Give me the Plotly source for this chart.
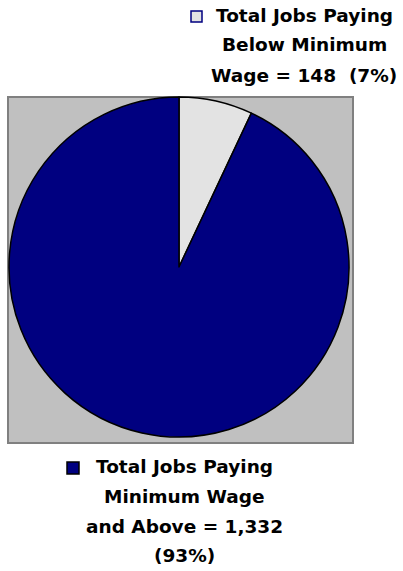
import plotly.graph_objects as go

W, H = 403, 571

categories = ["Total Jobs Paying Below Minimum Wage", "Total Jobs Paying Minimum Wage and Above"]
jobs = [148, 1332]
percent = [7, 93]
colors = ["#E3E3E3", "#000080"]

legend_lines = [
    ["Total Jobs Paying", "Below Minimum", "Wage = 148  (7%)"],
    ["Total Jobs Paying", "Minimum Wage", "and Above = 1,332", "(93%)"],
]


def px_x(v):
    return v / W


def px_y(v):
    return 1 - v / H


fig = go.Figure()
fig.add_trace(go.Pie(
    labels=categories,
    values=percent,
    customdata=jobs,
    sort=False,
    direction="clockwise",
    rotation=0,
    marker=dict(colors=colors, line=dict(color="#000000", width=1.5)),
    textinfo="none",
    hovertemplate="%{label}: %{customdata} (%{value}%)<extra></extra>",
    showlegend=False,
    domain=dict(x=[px_x(9), px_x(349)], y=[px_y(437), px_y(97)]),
))

shapes = [
    dict(type="rect", xref="paper", yref="paper", layer="below",
         x0=px_x(8), x1=px_x(353), y0=px_y(443), y1=px_y(97),
         fillcolor="#C0C0C0", line=dict(color="#808080", width=2)),
    dict(type="rect", xref="paper", yref="paper",
         x0=px_x(191), x1=px_x(202), y0=px_y(22), y1=px_y(11),
         fillcolor=colors[0], line=dict(color="#000080", width=1.5)),
    dict(type="rect", xref="paper", yref="paper",
         x0=px_x(67), x1=px_x(79), y0=px_y(474), y1=px_y(462),
         fillcolor=colors[1], line=dict(color="#000000", width=1.5)),
]

font = dict(family="DejaVu Sans, sans-serif", size=18.5, color="#000000", weight="bold")
annotations = []
for cx, ys, lines in [(304, [15, 45, 76], legend_lines[0]), (184, [466, 496, 526, 555], legend_lines[1])]:
    for yy, t in zip(ys, lines):
        annotations.append(dict(text=t, xref="paper", yref="paper", x=px_x(cx), y=px_y(yy),
                                xanchor="center", yanchor="middle", showarrow=False, font=font))

fig.update_layout(
    width=W, height=H,
    margin=dict(l=0, r=0, t=0, b=0),
    paper_bgcolor="#FFFFFF",
    plot_bgcolor="#FFFFFF",
    shapes=shapes,
    annotations=annotations,
)

fig.write_html(
    "out.html",
    config={"displayModeBar": False},
    post_script="document.body.style.margin='0';document.body.style.overflow='hidden';",
)
